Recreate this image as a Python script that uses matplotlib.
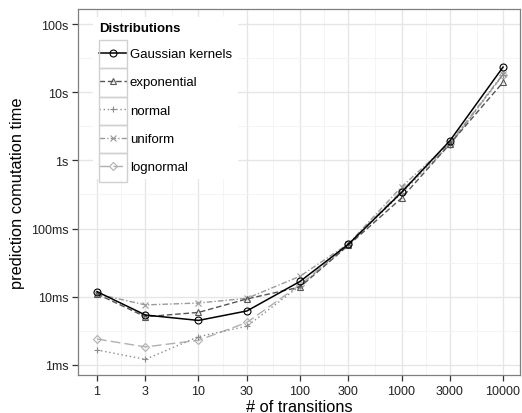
import matplotlib
matplotlib.use('Agg')
import matplotlib.pyplot as plt
from matplotlib.patches import Rectangle
import numpy as np

plt.rcParams['font.family'] = ['Liberation Sans', 'DejaVu Sans']

# 数据（单位：秒）
transitions = [1, 3, 10, 30, 100, 300, 1000, 3000, 10000]
gaussian = [0.0119, 0.0054, 0.0045, 0.0062, 0.0168, 0.059, 0.34, 1.95, 23.4]
exponential = [0.011, 0.0051, 0.0059, 0.0093, 0.0139, 0.057, 0.28, 1.75, 14.0]
normal = [0.00166, 0.00121, 0.0026, 0.0037, 0.0145, 0.058, 0.33, 1.7, 18.0]
uniform = [0.011, 0.0076, 0.0081, 0.0095, 0.020, 0.060, 0.41, 1.8, 18.5]
lognormal = [0.0024, 0.00184, 0.0023, 0.0042, 0.0150, 0.059, 0.36, 1.75, 18.0]

y_ticks = [0.001, 0.01, 0.1, 1, 10, 100]
y_labels = ['1ms', '10ms', '100ms', '1s', '10s', '100s']

series = [
    ('Gaussian kernels', gaussian, 'black', '-', 'o'),
    ('exponential', exponential, '#555555', (0, (4, 2)), '^'),
    ('normal', normal, '#8c8c8c', (0, (1, 2)), '+'),
    ('uniform', uniform, '#9a9a9a', (0, (4, 1.5, 1, 1.5)), 'x'),
    ('lognormal', lognormal, '#b0b0b0', (0, (7, 3)), 'D'),
]

fig = plt.figure(figsize=(5.22, 4.14), dpi=100)
ax = fig.add_axes([0.1494, 0.0918, 0.8468, 0.884])

for name, vals, color, ls, mk in reversed(series):
    ms = 3.8 if mk == 'D' else 5
    ax.plot(transitions, vals, color=color, linestyle=ls,
            linewidth=1.1 if color == 'black' else 1.0,
            marker=mk, markersize=ms, markerfacecolor='none',
            markeredgecolor=color, markeredgewidth=0.8, label=name)

ax.set_xscale('log')
ax.set_yscale('log')
ax.set_xlim(10 ** -0.187, 10 ** 4.167)
ax.set_ylim(10 ** -3.147, 10 ** 2.22)

ax.set_xticks(transitions)
ax.set_xticklabels([str(t) for t in transitions])
ax.set_xticks([], minor=True)
ax.set_yticks(y_ticks)
ax.set_yticklabels(y_labels)
ax.set_yticks([], minor=True)

# ggplot 风格的网格
xt = np.log10(transitions)
for v in transitions:
    ax.axvline(v, color='#e6e6e6', linewidth=1.0, zorder=0)
for a, b in zip(xt[:-1], xt[1:]):
    ax.axvline(10 ** ((a + b) / 2), color='#f3f3f3', linewidth=0.6, zorder=0)
for v in y_ticks:
    ax.axhline(v, color='#e6e6e6', linewidth=1.0, zorder=0)
for e in range(-3, 2):
    ax.axhline(10 ** (e + 0.5), color='#f3f3f3', linewidth=0.6, zorder=0)

for sp in ax.spines.values():
    sp.set_color('#7f7f7f')
    sp.set_linewidth(0.9)

ax.tick_params(axis='both', direction='out', length=4, width=0.9,
               color='#333333', labelsize=9, labelcolor='#222222', pad=3)
ax.set_xlabel('# of transitions', fontsize=11.8, labelpad=2)
ax.set_ylabel('prediction comutation time', fontsize=11.8, labelpad=4)

handles, labels = ax.get_legend_handles_labels()
leg = ax.legend(handles[::-1], labels[::-1], loc='upper left',
                bbox_to_anchor=(0.029, 0.986), title='Distributions',
                frameon=True, fontsize=9.5, handlelength=2.1,
                labelspacing=1.22, handletextpad=0.25, borderpad=0.12)
leg.get_frame().set_edgecolor('none')
leg.get_frame().set_facecolor('white')
leg.get_frame().set_alpha(1)
leg.get_frame().set_boxstyle('square', pad=0.3)
leg._legend_box.align = 'left'
leg._legend_box.sep = 1.22 * 9.5 - 1.8   # 标题与图例项之间稍紧一些
leg.get_title().set_fontweight('bold')
leg.get_title().set_fontsize(9.5)

# 图例键的灰色边框
fig.canvas.draw()
renderer = fig.canvas.get_renderer()
texts = leg.get_texts()
ext = [t.get_window_extent(renderer) for t in texts]
pitch = (ext[0].y0 + ext[0].y1) / 2 - (ext[1].y0 + ext[1].y1) / 2
fs_px = 9.5 * fig.dpi / 72
key_w = 2.1 * fs_px
gap = 0.25 * fs_px
for e in ext:
    cy = (e.y0 + e.y1) / 2
    x1 = e.x0 - gap
    x0 = x1 - key_w
    (fx0, fy0), (fx1, fy1) = fig.transFigure.inverted().transform(
        [(x0, cy - pitch / 2), (x1, cy + pitch / 2)])
    fig.add_artist(Rectangle((fx0, fy0), fx1 - fx0, fy1 - fy0,
                             transform=fig.transFigure, facecolor='none',
                             edgecolor='#d0d0d0', linewidth=1.0, zorder=10))

plt.savefig('out.png', dpi=100)
plt.close()
